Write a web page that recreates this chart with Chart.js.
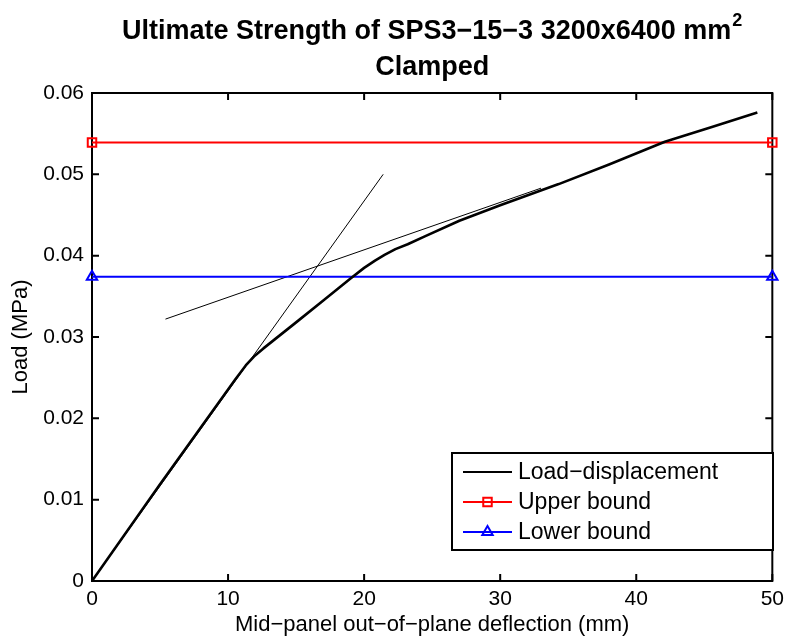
<!DOCTYPE html>
<html>
<head>
<meta charset="utf-8">
<script src="https://cdn.jsdelivr.net/npm/chart.js@4.4.1/dist/chart.umd.min.js"></script>
<style>
  html, body { margin: 0; padding: 0; background: #fff; }
  canvas { display: block; }
</style>
</head>
<body>
<canvas id="strengthChart" width="790" height="639"></canvas>
<script>
// === Chart data ===
const deflection = [0, 5, 10.5, 11.3, 11.9, 12.6, 13.5, 15, 17, 19, 20, 20.8, 21.5, 22.3, 23.2, 24.5, 27, 30, 34.3, 38, 42.1, 45.5, 48.9];
const load = [0, 0.0119, 0.0247, 0.0265, 0.0276, 0.0286, 0.0298, 0.0318, 0.0345, 0.0372, 0.0385, 0.0394, 0.0401, 0.0408, 0.0414, 0.0424, 0.0443, 0.0462, 0.0488, 0.0512, 0.054, 0.0558, 0.0576];

const boundX = [0, 50];
const upperBound = [0.0539, 0.0539];
const lowerBound = [0.0374, 0.0374];

// construction lines for the two stiffness slopes
const steepX = [0, 21.4];
const steepY = [0, 0.05];
const shallowX = [5.4, 33];
const shallowY = [0.0322, 0.0483];

const xTicks = [0, 10, 20, 30, 40, 50];
const yTicks = [0, 0.01, 0.02, 0.03, 0.04, 0.05, 0.06];

const titleLines = ["Ultimate Strength of SPS3\u221215\u22123 3200x6400 mm", "Clamped"];
const xLabel = "Mid\u2212panel out\u2212of\u2212plane deflection (mm)";
const yLabel = "Load (MPa)";

const FONT = "'Liberation Sans', Arial, Helvetica, sans-serif";

function toPoints(xs, ys) {
  return xs.map((x, i) => ({ x: x, y: ys[i] }));
}

// === Box with inward ticks ===
const boxPlugin = {
  id: "boxPlugin",
  beforeDatasetsDraw(chart) {
    const { ctx, chartArea: a, scales } = chart;
    const len = 7;
    ctx.save();
    ctx.strokeStyle = "#000";
    ctx.lineWidth = 2;
    ctx.strokeRect(a.left, a.top, a.right - a.left, a.bottom - a.top);
    ctx.beginPath();
    xTicks.forEach((v) => {
      const px = scales.x.getPixelForValue(v);
      ctx.moveTo(px, a.bottom);
      ctx.lineTo(px, a.bottom - len);
      ctx.moveTo(px, a.top);
      ctx.lineTo(px, a.top + len);
    });
    yTicks.forEach((v) => {
      const py = scales.y.getPixelForValue(v);
      ctx.moveTo(a.left, py);
      ctx.lineTo(a.left + len, py);
      ctx.moveTo(a.right, py);
      ctx.lineTo(a.right - len, py);
    });
    ctx.stroke();
    ctx.restore();
  },
};

// === Two-line title with superscript ===
const titlePlugin = {
  id: "titlePlugin",
  afterDraw(chart) {
    const { ctx, chartArea: a } = chart;
    const cx = (a.left + a.right) / 2;
    const big = "bold 27px " + FONT;
    const small = "bold 18px " + FONT;
    ctx.save();
    ctx.fillStyle = "#000";
    ctx.textBaseline = "alphabetic";
    ctx.font = big;
    const mainW = ctx.measureText(titleLines[0]).width;
    ctx.font = small;
    const supW = ctx.measureText("2").width;
    const start = cx - (mainW + supW + 1) / 2;
    ctx.font = big;
    ctx.textAlign = "left";
    ctx.fillText(titleLines[0], start, 39);
    ctx.font = small;
    ctx.fillText("2", start + mainW + 1, 26);
    ctx.font = big;
    ctx.textAlign = "center";
    ctx.fillText(titleLines[1], cx, 75);
    ctx.restore();
  },
};

// === Legend box in the lower right ===
const legendPlugin = {
  id: "legendPlugin",
  afterDatasetsDraw(chart) {
    const { ctx } = chart;
    const box = { x: 452, y: 453, w: 321, h: 97 };
    const rows = [472, 502, 532];
    ctx.save();
    ctx.fillStyle = "#fff";
    ctx.fillRect(box.x, box.y, box.w, box.h);
    ctx.strokeStyle = "#000";
    ctx.lineWidth = 2;
    ctx.strokeRect(box.x, box.y, box.w, box.h);
    chart.data.datasets
      .filter((ds) => ds.inLegend)
      .forEach((ds, i) => {
        const y = rows[i];
        ctx.strokeStyle = ds.borderColor;
        ctx.lineWidth = ds.legendWidth || ds.borderWidth;
        ctx.beginPath();
        ctx.moveTo(463, y);
        ctx.lineTo(512, y);
        ctx.stroke();
        if (ds.pointRadius > 0) {
          ctx.fillStyle = "rgba(0,0,0,0)";
          ctx.strokeStyle = ds.pointBorderColor;
          ctx.lineWidth = ds.pointBorderWidth;
          Chart.helpers.drawPoint(ctx, {
            pointStyle: ds.pointStyle,
            radius: ds.pointRadius,
            borderWidth: ds.pointBorderWidth,
            rotation: 0,
          }, 487.5, y);
        }
        ctx.fillStyle = "#000";
        ctx.font = "23px " + FONT;
        ctx.textAlign = "left";
        ctx.textBaseline = "middle";
        ctx.fillText(ds.label, 518, y + 1);
      });
    ctx.restore();
  },
};

const ctx = document.getElementById("strengthChart").getContext("2d");
new Chart(ctx, {
  type: "line",
  data: {
    datasets: [
      {
        label: "Load\u2212displacement",
        data: toPoints(deflection, load),
        borderColor: "#000",
        borderWidth: 2.6,
        legendWidth: 2,
        pointRadius: 0,
        borderJoinStyle: "round",
        inLegend: true,
      },
      {
        label: "Upper bound",
        data: toPoints(boundX, upperBound),
        borderColor: "#ff0000",
        borderWidth: 2,
        pointStyle: "rect",
        pointRadius: 6,
        pointBorderWidth: 2,
        pointBorderColor: "#ff0000",
        pointBackgroundColor: "rgba(0,0,0,0)",
        clip: false,
        inLegend: true,
      },
      {
        label: "Lower bound",
        data: toPoints(boundX, lowerBound),
        borderColor: "#0000ff",
        borderWidth: 2,
        pointStyle: "triangle",
        pointRadius: 6,
        pointBorderWidth: 2,
        pointBorderColor: "#0000ff",
        pointBackgroundColor: "rgba(0,0,0,0)",
        clip: false,
        inLegend: true,
      },
      {
        label: "steep",
        data: toPoints(steepX, steepY),
        borderColor: "#000",
        borderWidth: 1,
        pointRadius: 0,
      },
      {
        label: "shallow",
        data: toPoints(shallowX, shallowY),
        borderColor: "#000",
        borderWidth: 1,
        pointRadius: 0,
      },
    ],
  },
  options: {
    responsive: false,
    animation: false,
    events: [],
    layout: { padding: { top: 93, right: 16, left: 0, bottom: 0 } },
    plugins: {
      legend: { display: false },
      title: { display: false },
      tooltip: { enabled: false },
    },
    scales: {
      x: {
        type: "linear",
        min: 0,
        max: 50,
        afterBuildTicks: (s) => { s.ticks = xTicks.map((v) => ({ value: v })); },
        ticks: {
          color: "#000",
          font: { family: FONT, size: 21 },
          padding: 6,
          maxRotation: 0,
        },
        grid: { display: false, drawTicks: false },
        border: { display: false },
        title: {
          display: true,
          text: xLabel,
          color: "#000",
          font: { family: FONT, size: 22 },
          padding: { top: 0, bottom: 1 },
        },
        afterFit: (s) => { s.height = 58; },
      },
      y: {
        type: "linear",
        min: 0,
        max: 0.06,
        afterBuildTicks: (s) => { s.ticks = yTicks.map((v) => ({ value: v })); },
        ticks: {
          color: "#000",
          font: { family: FONT, size: 21 },
          padding: 8,
          callback: (v) => (v === 0 ? "0" : v.toFixed(2)),
        },
        grid: { display: false, drawTicks: false },
        border: { display: false },
        title: {
          display: true,
          text: yLabel,
          color: "#000",
          font: { family: FONT, size: 22 },
          padding: { top: 8, bottom: 0 },
        },
        afterFit: (s) => { s.width = 92; },
      },
    },
  },
  plugins: [boxPlugin, legendPlugin, titlePlugin],
});
</script>
</body>
</html>
